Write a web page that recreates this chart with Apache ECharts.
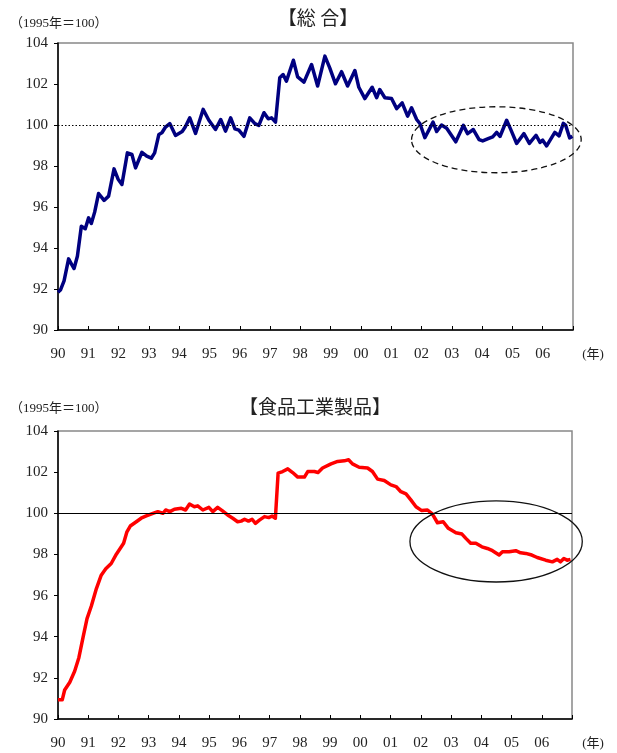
<!DOCTYPE html>
<html>
<head>
<meta charset="utf-8">
<script src="https://cdn.jsdelivr.net/npm/echarts@6/dist/echarts.min.js"></script>
<style>html,body{margin:0;padding:0;background:#fff;}#c{width:617px;height:753px;}</style>
</head>
<body>
<div id="c"></div>
<script>
// ---- data ----
const yAxisTicks = [90, 92, 94, 96, 98, 100, 102, 104];
const yearLabels = ['90','91','92','93','94','95','96','97','98','99','00','01','02','03','04','05','06'];

const totalYears = [1990.00,1990.08,1990.20,1990.35,1990.45,1990.53,1990.64,1990.77,1990.90,1991.01,1991.10,1991.21,1991.34,1991.52,1991.67,1991.85,1991.98,1992.11,1992.29,1992.44,1992.56,1992.77,1992.93,1993.08,1993.19,1993.33,1993.43,1993.55,1993.69,1993.88,1994.10,1994.20,1994.35,1994.54,1994.79,1994.98,1995.20,1995.37,1995.53,1995.70,1995.84,1995.97,1996.14,1996.33,1996.50,1996.63,1996.80,1996.94,1997.05,1997.18,1997.32,1997.43,1997.54,1997.77,1997.91,1998.12,1998.37,1998.57,1998.81,1998.97,1999.16,1999.36,1999.56,1999.80,1999.93,2000.13,2000.37,2000.52,2000.62,2000.79,2001.01,2001.18,2001.36,2001.54,2001.67,2001.84,2001.95,2002.11,2002.38,2002.50,2002.66,2002.83,2003.13,2003.38,2003.52,2003.71,2003.90,2004.02,2004.20,2004.35,2004.48,2004.59,2004.81,2004.94,2005.14,2005.38,2005.56,2005.78,2005.91,2006.00,2006.13,2006.40,2006.54,2006.68,2006.76,2006.89,2006.98];
const totalValues = [91.84,91.95,92.40,93.47,93.20,93.00,93.60,95.06,94.94,95.47,95.20,95.75,96.66,96.32,96.53,97.86,97.37,97.10,98.64,98.56,97.91,98.67,98.48,98.38,98.64,99.54,99.62,99.90,100.07,99.49,99.68,99.90,100.35,99.59,100.76,100.23,99.78,100.27,99.70,100.35,99.81,99.75,99.45,100.35,100.07,99.98,100.60,100.30,100.35,100.14,102.30,102.46,102.14,103.16,102.35,102.09,102.95,101.90,103.36,102.79,102.01,102.60,101.90,102.66,101.84,101.29,101.84,101.33,101.73,101.33,101.29,100.80,101.08,100.43,100.84,100.27,100.06,99.38,100.14,99.68,100.00,99.84,99.18,99.98,99.58,99.78,99.29,99.22,99.33,99.42,99.64,99.44,100.23,99.80,99.10,99.58,99.10,99.50,99.15,99.26,98.98,99.64,99.47,100.08,99.98,99.37,99.45];

const foodYears = [1990.00,1990.14,1990.22,1990.39,1990.55,1990.69,1990.83,1990.96,1991.10,1991.27,1991.43,1991.58,1991.76,1991.93,1992.17,1992.28,1992.39,1992.59,1992.75,1992.92,1993.14,1993.30,1993.47,1993.56,1993.70,1993.85,1994.08,1994.22,1994.35,1994.51,1994.62,1994.79,1994.99,1995.12,1995.28,1995.43,1995.61,1995.78,1995.94,1996.06,1996.17,1996.30,1996.42,1996.53,1996.66,1996.83,1996.97,1997.08,1997.19,1997.28,1997.43,1997.60,1997.76,1997.93,1998.15,1998.26,1998.48,1998.60,1998.75,1999.03,1999.25,1999.47,1999.61,1999.74,1999.96,2000.24,2000.40,2000.57,2000.79,2001.01,2001.18,2001.34,2001.51,2001.67,2001.84,2002.03,2002.22,2002.38,2002.55,2002.74,2002.91,2003.16,2003.36,2003.49,2003.65,2003.82,2004.02,2004.20,2004.37,2004.59,2004.70,2004.92,2005.14,2005.30,2005.47,2005.67,2005.85,2006.13,2006.35,2006.51,2006.62,2006.73,2006.84,2006.95];
const foodValues = [90.93,90.93,91.41,91.79,92.32,92.98,93.98,94.88,95.48,96.34,96.99,97.30,97.56,98.01,98.54,99.10,99.38,99.59,99.76,99.87,100.00,100.08,100.00,100.16,100.08,100.20,100.24,100.16,100.45,100.32,100.36,100.16,100.29,100.08,100.29,100.13,99.92,99.76,99.59,99.62,99.71,99.62,99.71,99.51,99.67,99.84,99.79,99.87,99.76,101.95,102.03,102.16,101.98,101.76,101.76,102.03,102.03,101.98,102.20,102.40,102.52,102.55,102.60,102.40,102.24,102.20,102.03,101.66,101.59,101.38,101.30,101.05,100.94,100.65,100.32,100.13,100.16,99.97,99.54,99.59,99.27,99.05,98.99,98.78,98.54,98.54,98.37,98.29,98.18,97.97,98.13,98.13,98.18,98.08,98.05,97.97,97.85,97.72,97.64,97.76,97.64,97.80,97.72,97.76];

// annotation ellipses in data units: [centerYear, centerValue, radiusYears, radiusValue]
const totalEllipse = [2004.47, 99.28, 2.80, 1.61];
const foodEllipse = [2004.49, 98.63, 2.85, 1.97];

// ---- chart ----
const serif = "'Liberation Serif','Noto Sans CJK JP',serif";
const cjk = "'Noto Sans CJK JP','Liberation Serif',sans-serif";
const chart = echarts.init(document.getElementById('c'), null, {renderer: 'canvas'});

function xAxisDef(gi) {
  return {
    type: 'value', gridIndex: gi, min: 1990, max: 2007, interval: 1,
    axisLine: {show: true, onZero: false, lineStyle: {color: '#000', width: 1.5}},
    axisTick: {show: true, inside: true, length: 4, lineStyle: {color: '#000', width: 1}},
    axisLabel: {
      margin: 17, fontFamily: serif, fontSize: 15, color: '#222',
      formatter: v => { const i = Math.round(v) - 1990; return yearLabels[i] !== undefined ? yearLabels[i] : ''; }
    },
    splitLine: {show: false}
  };
}
function yAxisDef(gi) {
  return {
    type: 'value', gridIndex: gi, min: yAxisTicks[0], max: yAxisTicks[yAxisTicks.length - 1], interval: 2,
    axisLine: {show: true, onZero: false, lineStyle: {color: '#000', width: 1.5}},
    axisTick: {show: true, inside: false, length: 4, lineStyle: {color: '#000', width: 1}},
    axisLabel: {margin: 10, fontFamily: serif, fontSize: 15, color: '#222'},
    splitLine: {show: false}
  };
}

chart.setOption({
  animation: false,
  backgroundColor: '#fff',
  grid: [
    {left: 58, top: 43, width: 515, height: 287, show: true, borderColor: '#888', borderWidth: 1.5},
    {left: 58, top: 431, width: 514, height: 288, show: true, borderColor: '#888', borderWidth: 1.5}
  ],
  xAxis: [xAxisDef(0), xAxisDef(1)],
  yAxis: [yAxisDef(0), yAxisDef(1)],
  series: [
    {
      type: 'line', xAxisIndex: 0, yAxisIndex: 0, showSymbol: false,
      data: totalYears.map((y, i) => [y, totalValues[i]]),
      lineStyle: {color: '#000080', width: 3.5, join: 'round'},
      itemStyle: {color: '#000080'},
      markLine: {
        silent: true, symbol: ['none', 'none'], label: {show: false},
        lineStyle: {color: '#000', type: [1.5, 2], width: 1},
        data: [{yAxis: 100}]
      },
      z: 3
    },
    {
      type: 'line', xAxisIndex: 1, yAxisIndex: 1, showSymbol: false,
      data: foodYears.map((y, i) => [y, foodValues[i]]),
      lineStyle: {color: '#ff0000', width: 3.5, join: 'round'},
      itemStyle: {color: '#ff0000'},
      markLine: {
        silent: true, symbol: ['none', 'none'], label: {show: false},
        lineStyle: {color: '#000', type: 'solid', width: 1.2},
        data: [{yAxis: 100}]
      },
      z: 3
    }
  ]
});

function ellipseGraphic(gi, e, dashed) {
  const c = chart.convertToPixel({gridIndex: gi}, [e[0], e[1]]);
  const px = chart.convertToPixel({gridIndex: gi}, [e[0] + e[2], e[1]]);
  const py = chart.convertToPixel({gridIndex: gi}, [e[0], e[1] + e[3]]);
  return {
    type: 'ellipse', z: 100,
    shape: {cx: c[0], cy: c[1], rx: Math.abs(px[0] - c[0]), ry: Math.abs(c[1] - py[1])},
    style: {fill: 'none', stroke: '#111', lineWidth: 1.3, lineDash: dashed ? [6, 4] : null}
  };
}
function txt(x, y, s, size, font, align) {
  return {type: 'text', x: x, y: y, z: 100,
    style: {text: s, font: size + 'px ' + font, fill: '#222', textAlign: align || 'left', textVerticalAlign: 'middle'}};
}

chart.setOption({
  graphic: [
    ellipseGraphic(0, totalEllipse, true),
    ellipseGraphic(1, foodEllipse, false),
    txt(318, 18, '【総 合】', 19, cjk, 'center'),
    txt(315, 407, '【食品工業製品】', 19, cjk, 'center'),
    txt(10, 24, '（1995年＝100）', 13, serif, 'left'),
    txt(10, 409, '（1995年＝100）', 13, serif, 'left'),
    txt(593, 355, '(年)', 13, serif, 'center'),
    txt(593, 744, '(年)', 13, serif, 'center')
  ]
});
</script>
</body>
</html>
